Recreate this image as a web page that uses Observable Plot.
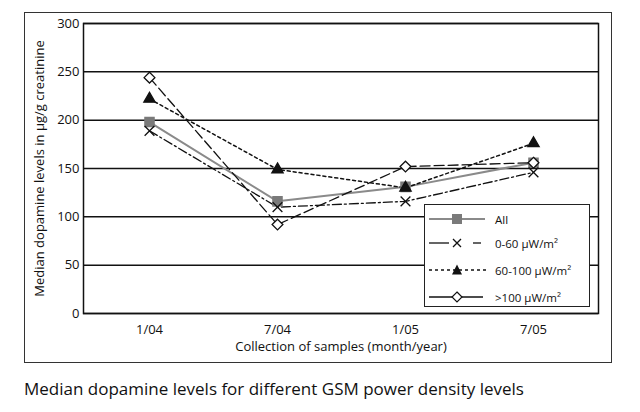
<!DOCTYPE html>
<html>
<head>
<meta charset="utf-8">
<script src="https://cdn.jsdelivr.net/npm/d3@7"></script>
<script src="https://cdn.jsdelivr.net/npm/@observablehq/plot@0.6"></script>
<style>
  body { margin: 0; background: #fff; font-family: "Open Sans", "Noto Sans", sans-serif; }
  #wrap { position: relative; width: 640px; height: 412px; overflow: hidden; }
  #frame { position: absolute; left: 24px; top: 12px; width: 586px; height: 349px; border: 1.5px solid #333; pointer-events: none; }
  #chart { position: absolute; left: 0; top: 0; }
  #legend { position: absolute; left: 424px; top: 204px; width: 164px; height: 101px; border: 1.5px solid #222; background: #fff; font-size: 11.5px; color: #111; }
  #legend .row { position: absolute; left: 0; height: 20px; display: flex; align-items: center; }
  #legend svg { display: block; }
  #legend span { margin-left: 6px; }
  #caption { position: absolute; left: 24px; top: 377px; font-size: 17px; color: #111; white-space: nowrap; }
</style>
</head>
<body>
<div id="wrap">
  <div id="chart"></div>
  <div id="frame"></div>
  <div id="legend"></div>
  <div id="caption">Median dopamine levels for different GSM power density levels</div>
</div>
<script>
// Sampling dates (month/year)
const dates = ["1/04", "7/04", "1/05", "7/05"];

// Median dopamine, µg/g creatinine, per power-density group
const allGroups = [198, 116, 131, 156];
const low = [189, 110, 116, 146];     // 0-60 µW/m²
const mid = [222, 149, 130, 176];     // 60-100 µW/m²
const high = [244, 92, 152, 156];     // >100 µW/m²

const yTicks = [0, 50, 100, 150, 200, 250, 300];

// A square turned 45°, so the diamond is as wide as it is tall
const squareDiamond = {
  draw(context, size) {
    const h = Math.sqrt(size / 2);
    context.moveTo(0, -h);
    context.lineTo(h, 0);
    context.lineTo(0, h);
    context.lineTo(-h, 0);
    context.closePath();
  }
};

const series = [
  {name: "All", values: allGroups, stroke: "#8a8a8a", width: 2, dash: null, symbol: "square", fill: "#7a7a7a", mstroke: "#7a7a7a", r: 5.2},
  {name: "0-60 µW/m²", values: low, stroke: "#111", width: 1.3, dash: "9,3,2,3", symbol: "times", fill: "none", mstroke: "#111", r: 4.5},
  {name: "60-100 µW/m²", values: mid, stroke: "#111", width: 1.5, dash: "3,3", symbol: "triangle", fill: "#111", mstroke: "#111", r: 4.2},
  {name: ">100 µW/m²", values: high, stroke: "#111", width: 1.3, dash: "10,4", symbol: squareDiamond, fill: "#fff", mstroke: "#111", r: 4.3}
];

const rows = s => dates.map((d, i) => ({date: d, value: s.values[i]}));

const marks = [
  Plot.gridY(yTicks, {stroke: "#111", strokeOpacity: 1, strokeWidth: 1.5}),
  Plot.frame({stroke: "#111", strokeWidth: 1.5}),
  Plot.axisY(yTicks, {tickSize: 0, tickPadding: 4, fontSize: 13, fill: "#111", label: "Median dopamine levels in µg/g creatinine", labelAnchor: "center", labelArrow: "none", labelOffset: 49}),
  Plot.axisX({tickSize: 0, tickPadding: 11, fontSize: 13, fill: "#111", label: "Collection of samples (month/year)", labelAnchor: "center", labelArrow: "none", labelOffset: 37})
];
for (const s of series) {
  marks.push(Plot.line(rows(s), {x: "date", y: "value", stroke: s.stroke, strokeWidth: s.width, strokeDasharray: s.dash}));
}
for (const s of series) {
  marks.push(Plot.dot(rows(s), {x: "date", y: "value", symbol: s.symbol, r: s.r, fill: s.fill, stroke: s.mstroke, strokeWidth: 1.3}));
}

const chart = Plot.plot({
  width: 640,
  height: 372,
  marginLeft: 83,
  marginRight: 42,
  marginTop: 23,
  marginBottom: 59,
  style: {fontFamily: "'Open Sans', 'Noto Sans', sans-serif", fontSize: "12px", color: "#111", background: "transparent"},
  x: {type: "point", domain: dates, padding: 0.5},
  y: {domain: [0, 300]},
  marks
});
document.getElementById("chart").appendChild(chart);

// Legend with line and symbol swatches
const legend = document.getElementById("legend");
const tops = [4, 28, 55, 82];
const legendSymbols = [
  `<rect x="27" y="4" width="10" height="10" fill="#7a7a7a"/>`,
  `<path d="M28 5 L36 13 M36 5 L28 13" stroke="#111" stroke-width="1.3"/>`,
  `<path d="M32 3.5 L37 13.5 L27 13.5 Z" fill="#111"/>`,
  `<path d="M32 4 L37 9 L32 14 L27 9 Z" fill="#fff" stroke="#111" stroke-width="1.2"/>`
];
const swatchLines = [
  `<line x1="4" y1="9" x2="60" y2="9" stroke="#8a8a8a" stroke-width="2"/>`,
  `<line x1="4" y1="9" x2="24" y2="9" stroke="#111" stroke-width="1.3"/><line x1="48" y1="9" x2="56" y2="9" stroke="#111" stroke-width="1.3"/>`,
  `<line x1="4" y1="9" x2="62" y2="9" stroke="#111" stroke-width="1.5" stroke-dasharray="3,3"/>`,
  `<line x1="4" y1="9" x2="58" y2="9" stroke="#111" stroke-width="1.3"/>`
];
series.forEach((s, i) => {
  const row = document.createElement("div");
  row.className = "row";
  row.style.top = tops[i] + "px";
  row.innerHTML = `<svg width="64" height="18">${swatchLines[i]}${legendSymbols[i]}</svg><span>${s.name}</span>`;
  legend.appendChild(row);
});
</script>
</body>
</html>
